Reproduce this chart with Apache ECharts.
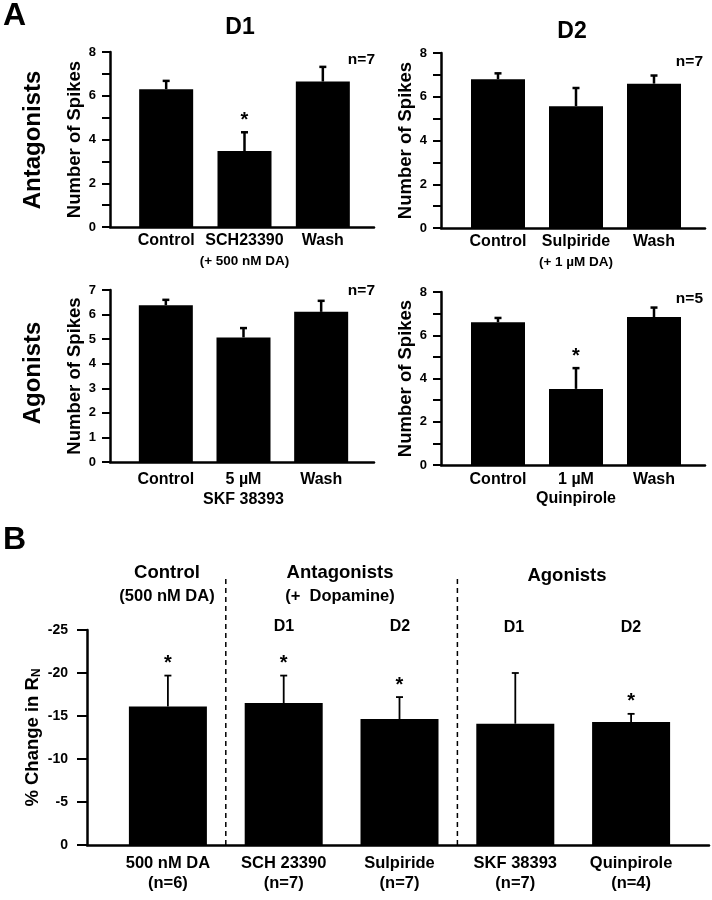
<!DOCTYPE html>
<html>
<head>
<meta charset="utf-8">
<script src="https://cdn.jsdelivr.net/npm/echarts@6/dist/echarts.min.js"></script>
<style>
html,body{margin:0;padding:0;background:#fff;}
#chart{width:712px;height:900px;}
</style>
</head>
<body>
<div id="chart"></div>
<script>
// ---------- DATA ----------
// Panel A, antagonists, D1
const catA1 = ['Control', 'SCH23390', 'Wash'];
const subA1 = ['', '(+ 500 nM DA)', ''];
const meanA1 = [6.3, 3.47, 6.65];
const semA1 = [0.38, 0.86, 0.67];
const sigA1 = [0, 1, 0];
// Panel A, antagonists, D2
const catA2 = ['Control', 'Sulpiride', 'Wash'];
const subA2 = ['', '(+ 1 µM DA)', ''];
const meanA2 = [6.8, 5.57, 6.6];
const semA2 = [0.27, 0.83, 0.37];
const sigA2 = [0, 0, 0];
// Panel A, agonists, D1
const catA3 = ['Control', '5 µM', 'Wash'];
const subA3 = ['', 'SKF 38393', ''];
const meanA3 = [6.38, 5.07, 6.11];
const semA3 = [0.22, 0.38, 0.45];
const sigA3 = [0, 0, 0];
// Panel A, agonists, D2
const catA4 = ['Control', '1 µM', 'Wash'];
const subA4 = ['', 'Quinpirole', ''];
const meanA4 = [6.6, 3.52, 6.84];
const semA4 = [0.2, 0.96, 0.44];
const sigA4 = [0, 1, 0];
// Panel B
const catB = ['500 nM DA', 'SCH 23390', 'Sulpiride', 'SKF 38393', 'Quinpirole'];
const subB = ['(n=6)', '(n=7)', '(n=7)', '(n=7)', '(n=4)'];
const meanB = [-16.1, -16.5, -14.65, -14.1, -14.3];
const semB = [3.6, 3.2, 2.55, 5.9, 0.95];
const sigB = [1, 1, 1, 0, 1];
const groupBreaksB = [1, 3];

// tick labels
const yTicksA8 = [0, 2, 4, 6, 8];
const yTicksA7 = [0, 1, 2, 3, 4, 5, 6, 7];
const yTicksB = [0, -5, -10, -15, -20, -25];

// ---------- LAYOUT ----------
const FONT = 'Liberation Sans, Arial, sans-serif';
const panels = [
  {cat: catA1, sub: subA1, mean: meanA1, sem: semA1, sig: sigA1, ticks: yTicksA8, max: 8,
   grid: {left: 127, width: 235, top: 52, height: 175}, axisX: 110, frameW: 264, labelMargin: 4, lh: 20},
  {cat: catA2, sub: subA2, mean: meanA2, sem: semA2, sig: sigA2, ticks: yTicksA8, max: 8,
   grid: {left: 459, width: 234, top: 53, height: 175}, axisX: 441, frameW: 264, labelMargin: 4, lh: 20},
  {cat: catA3, sub: subA3, mean: meanA3, sem: semA3, sig: sigA3, ticks: yTicksA7, max: 7,
   grid: {left: 127, width: 233, top: 290, height: 172}, axisX: 110, frameW: 264, labelMargin: 8, lh: 20, subBig: true},
  {cat: catA4, sub: subA4, mean: meanA4, sem: semA4, sig: sigA4, ticks: yTicksA8, max: 8,
   grid: {left: 459, width: 234, top: 292, height: 173}, axisX: 441, frameW: 264, labelMargin: 5, lh: 19, subBig: true}
];

const grids = [], xAxes = [], yAxes = [], series = [];

function addFrame(gridLeft, width, top, height) {
  grids.push({left: gridLeft, width: width, top: top, height: height, containLabel: false});
  const gi = grids.length - 1;
  xAxes.push({gridIndex: gi, type: 'value', min: 0, max: 1,
    axisLine: {show: true, lineStyle: {color: '#000', width: 2.5}},
    axisTick: {show: false}, axisLabel: {show: false}, splitLine: {show: false}});
  yAxes.push({gridIndex: gi, type: 'value', show: false, min: 0, max: 1});
}

function errRender(lineW, capHalf, astSize) {
  return function (params, api) {
    const x = api.value(0), m = api.value(1), t = api.value(2), s = api.value(3);
    const p0 = api.coord([x, m]);
    const p1 = api.coord([x, t]);
    const children = [
      {type: 'line', shape: {x1: p0[0], y1: p0[1], x2: p1[0], y2: p1[1]},
       style: {stroke: '#000', lineWidth: lineW}},
      {type: 'line', shape: {x1: p1[0] - capHalf, y1: p1[1], x2: p1[0] + capHalf, y2: p1[1]},
       style: {stroke: '#000', lineWidth: lineW}}
    ];
    if (s) {
      children.push({type: 'text', x: p1[0], y: p1[1] - 2,
        style: {text: '*', textAlign: 'center', textVerticalAlign: 'bottom',
                font: 'bold ' + astSize + 'px ' + FONT, fill: '#000'}});
    }
    return {type: 'group', children: children};
  };
}

panels.forEach(function (p) {
  grids.push(Object.assign({containLabel: false}, p.grid));
  const gi = grids.length - 1;
  const sub = p.sub;
  xAxes.push({gridIndex: gi, type: 'category', data: p.cat,
    axisLine: {show: false}, axisTick: {show: false},
    axisLabel: {margin: p.labelMargin, interval: 0,
      formatter: function (v, i) { return sub[i] ? '{a|' + v + '}\n{' + (p.subBig ? 'a' : 's') + '|' + sub[i] + '}' : '{a|' + v + '}'; },
      rich: {a: {fontSize: 16, fontWeight: 'bold', fontFamily: FONT, color: '#000', lineHeight: p.lh},
             s: {fontSize: 13.5, fontWeight: 'bold', fontFamily: FONT, color: '#000', lineHeight: p.lh}}}});
  const ticks = p.ticks;
  yAxes.push({gridIndex: gi, type: 'value', min: 0, max: p.max, interval: 1,
    offset: p.grid.left - p.axisX,
    name: 'Number of Spikes', nameLocation: 'middle', nameGap: 25,
    nameTextStyle: {fontSize: 18.5, fontWeight: 'bold', fontFamily: FONT, color: '#000'},
    axisLine: {show: true, lineStyle: {color: '#000', width: 2.5}},
    axisTick: {show: true, length: 8, lineStyle: {color: '#000', width: 2}},
    axisLabel: {margin: 14, fontSize: 13, fontWeight: 'bold', fontFamily: FONT, color: '#000',
      formatter: function (v) { return ticks.indexOf(v) >= 0 ? String(v) : ''; }},
    splitLine: {show: false}});
  series.push({type: 'bar', xAxisIndex: gi, yAxisIndex: gi, data: p.mean, barWidth: 54,
    itemStyle: {color: '#000'}, silent: true, z: 2});
  series.push({type: 'custom', xAxisIndex: gi, yAxisIndex: gi, renderItem: errRender(2.5, 3.5, 20),
    encode: {x: 0, y: [1, 2]}, z: 3, silent: true,
    data: p.mean.map(function (m, i) { return [i, m, m + p.sem[i], p.sig[i]]; })});
  addFrame(p.axisX, p.frameW, p.grid.top, p.grid.height);
});

// Panel B
grids.push({left: 110, width: 579, top: 630, height: 215, containLabel: false});
const gB = grids.length - 1;
xAxes.push({gridIndex: gB, type: 'category', data: catB,
  axisLine: {show: false}, axisTick: {show: false},
  axisLabel: {margin: 8, interval: 0,
    formatter: function (v, i) { return '{a|' + v + '}\n{a|' + subB[i] + '}'; },
    rich: {a: {fontSize: 16.5, fontWeight: 'bold', fontFamily: FONT, color: '#000', lineHeight: 20}}}});
yAxes.push({gridIndex: gB, type: 'value', min: -25, max: 0, interval: 5, inverse: true,
  offset: 23,
  name: '% Change in R{sub|N}', nameLocation: 'middle', nameGap: 44, nameMoveOverlap: false,
  nameTextStyle: {fontSize: 18.5, fontWeight: 'bold', fontFamily: FONT, color: '#000',
    rich: {sub: {fontSize: 12, fontWeight: 'bold', fontFamily: FONT, color: '#000', verticalAlign: 'bottom', padding: [8, 0, 0, 0]}}},
  axisLine: {show: true, lineStyle: {color: '#000', width: 2.5}},
  axisTick: {show: true, length: 10, lineStyle: {color: '#000', width: 2}},
  axisLabel: {margin: 19, fontSize: 14, fontWeight: 'bold', fontFamily: FONT, color: '#000',
    formatter: function (v) { return yTicksB.indexOf(v) >= 0 ? String(v) : ''; }},
  splitLine: {show: false}});
series.push({type: 'bar', xAxisIndex: gB, yAxisIndex: gB, data: meanB, barWidth: 78,
  itemStyle: {color: '#000'}, silent: true, z: 2});
series.push({type: 'custom', xAxisIndex: gB, yAxisIndex: gB, renderItem: errRender(1.8, 3.5, 20),
  encode: {x: 0, y: [1, 2]}, z: 3, silent: true,
  data: meanB.map(function (m, i) { return [i, m, m - semB[i], sigB[i]]; })});
series.push({type: 'custom', xAxisIndex: gB, yAxisIndex: gB, silent: true, z: 1,
  encode: {x: 0, y: 1},
  data: groupBreaksB.map(function (b) { return [b, 0]; }),
  renderItem: function (params, api) {
    const idx = api.value(0);
    const c = api.coord([idx, 0]);
    const w = api.size([1, 0])[0];
    const top = api.coord([idx, -31]);
    const x = c[0] - w / 2;
    return {type: 'line', shape: {x1: x, y1: c[1], x2: x, y2: top[1]},
      style: {stroke: '#000', lineWidth: 1.5, lineDash: [5, 4]}};
  }});
addFrame(87, 622, 630, 215);

function txt(text, x, y, size, opts) {
  opts = opts || {};
  return {type: 'text', x: x, y: y, rotation: opts.rot || 0, silent: true,
    style: {text: text, font: 'bold ' + size + 'px ' + FONT, fill: '#000',
      textAlign: opts.align || 'center', textVerticalAlign: 'middle'}};
}

const graphics = [
  txt('A', 3, 16, 32, {align: 'left'}),
  txt('B', 3, 540, 32, {align: 'left'}),
  txt('D1', 240, 28, 23),
  txt('D2', 572, 32, 23),
  txt('Antagonists', 33, 140, 24, {rot: Math.PI / 2}),
  txt('Agonists', 33, 373, 24, {rot: Math.PI / 2}),
  txt('n=7', 375, 60, 15.5, {align: 'right'}),
  txt('n=7', 703, 62, 15.5, {align: 'right'}),
  txt('n=7', 375, 291, 15.5, {align: 'right'}),
  txt('n=5', 703, 299, 15.5, {align: 'right'}),
  txt('Control', 167, 573, 18.5),
  txt('(500 nM DA)', 167, 596, 16.5),
  txt('Antagonists', 340, 573, 18.5),
  txt('(+  Dopamine)', 340, 596, 16.5),
  txt('Agonists', 567, 576, 18.5),
  txt('D1', 284, 627, 16),
  txt('D2', 400, 627, 16),
  txt('D1', 514, 628, 16),
  txt('D2', 631, 628, 16)
];

const chart = echarts.init(document.getElementById('chart'), null, {renderer: 'canvas'});
chart.setOption({
  backgroundColor: '#fff',
  animation: false,
  textStyle: {fontFamily: FONT},
  grid: grids,
  xAxis: xAxes,
  yAxis: yAxes,
  series: series,
  graphic: graphics
});
</script>
</body>
</html>
